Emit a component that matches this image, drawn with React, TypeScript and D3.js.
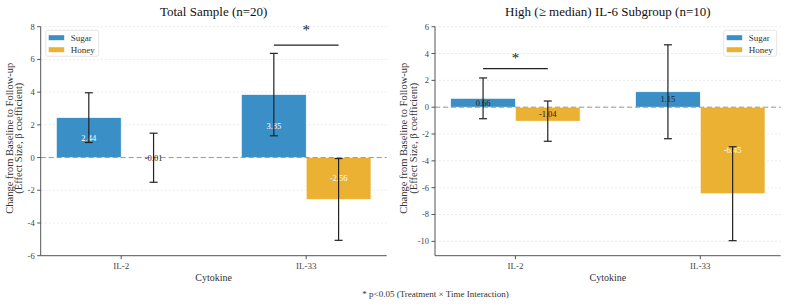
import React from "react";
import * as d3 from "d3";

// Cytokine effect sizes (beta coefficients) with error half-widths
const cytokines = ["IL-2", "IL-33"];

const totalSugar = [2.44, 3.85];
const totalHoney = [-0.01, -2.56];
const totalSugarErr = [1.52, 2.52];
const totalHoneyErr = [1.5, 2.5];

const highSugar = [0.66, 1.15];
const highHoney = [-1.04, -6.45];
const highSugarErr = [1.52, 3.5];
const highHoneyErr = [1.5, 3.5];

const totalTicks = [-6, -4, -2, 0, 2, 4, 6, 8];
const highTicks = [-10, -8, -6, -4, -2, 0, 2, 4, 6];

// significance bracket: cytokine index, bar height, star height
const totalSig = { index: 1, y: 6.87, star: 8.0 };
const highSig = { index: 0, y: 2.88, star: 3.9 };

const SUGAR = "#3a8fc7";
const HONEY = "#ebb133";
const FONT = "'Liberation Serif', 'Times New Roman', serif";
const BAR_W = 0.35;

type PanelProps = {
  title: string;
  left: number;
  right: number;
  yDomain: [number, number];
  ticks: number[];
  sugar: number[];
  honey: number[];
  sugarErr: number[];
  honeyErr: number[];
  sig: { index: number; y: number; star: number };
  legendRight: boolean;
};

const TOP = 26.7;
const BOTTOM = 255.7;

const Panel = ({
  title,
  left,
  right,
  yDomain,
  ticks,
  sugar,
  honey,
  sugarErr,
  honeyErr,
  sig,
  legendRight,
}: PanelProps) => {
  const x = d3.scaleLinear().domain([-0.435, 1.435]).range([left, right]);
  const y = d3.scaleLinear().domain(yDomain).range([BOTTOM, TOP]);
  const pxW = x(BAR_W) - x(0);

  const series = [
    { name: "Sugar", color: SUGAR, values: sugar, errs: sugarErr, off: -BAR_W / 2 },
    { name: "Honey", color: HONEY, values: honey, errs: honeyErr, off: BAR_W / 2 },
  ];

  const legendX = legendRight ? right - 57 : left + 5;
  const midY = (TOP + BOTTOM) / 2 - 3;

  return (
    <g fontFamily={FONT}>
      <text x={(left + right) / 2} y={16} textAnchor="middle" fontSize={13} fill="#111">
        {title}
      </text>

      {/* grid */}
      {ticks.map((t) => (
        <line
          key={t}
          x1={left}
          x2={right}
          y1={y(t)}
          y2={y(t)}
          stroke="#ddd"
          strokeWidth={0.6}
          strokeDasharray="2,2"
        />
      ))}

      {/* bars */}
      {series.map((s) =>
        s.values.map((v, i) => {
          const cx = x(i + s.off);
          return (
            <rect
              key={s.name + i}
              x={cx - pxW / 2}
              width={pxW}
              y={Math.min(y(v), y(0))}
              height={Math.abs(y(v) - y(0))}
              fill={s.color}
              stroke="#fff"
              strokeWidth={0.6}
            />
          );
        })
      )}

      {/* zero line */}
      <line
        x1={left}
        x2={right}
        y1={y(0)}
        y2={y(0)}
        stroke="#999"
        strokeWidth={1}
        strokeDasharray="5,3"
      />

      {/* value labels */}
      {series.map((s) =>
        s.values.map((v, i) => (
          <text
            key={"l" + s.name + i}
            x={x(i + s.off)}
            y={y(v / 2)}
            dy="0.35em"
            textAnchor="middle"
            fontSize={8.5}
            fill={Math.abs(v) > 2 ? "#fff" : "#222"}
          >
            {v.toFixed(2)}
          </text>
        ))
      )}

      {/* error bars */}
      {series.map((s) =>
        s.values.map((v, i) => {
          const cx = x(i + s.off);
          const lo = y(v - s.errs[i]);
          const hi = y(v + s.errs[i]);
          return (
            <g key={"e" + s.name + i} stroke="#222" strokeWidth={1.2}>
              <line x1={cx} x2={cx} y1={lo} y2={hi} />
              <line x1={cx - 4} x2={cx + 4} y1={lo} y2={lo} />
              <line x1={cx - 4} x2={cx + 4} y1={hi} y2={hi} />
            </g>
          );
        })
      )}

      {/* significance bracket */}
      <line
        x1={x(sig.index - BAR_W / 2)}
        x2={x(sig.index + BAR_W / 2)}
        y1={y(sig.y)}
        y2={y(sig.y)}
        stroke="#222"
        strokeWidth={1.2}
      />
      <text
        x={x(sig.index)}
        y={y(sig.star)}
        dy="0.55em"
        textAnchor="middle"
        fontSize={15}
        fill="#222"
      >
        *
      </text>

      {/* axes */}
      <line x1={left} x2={left} y1={TOP} y2={BOTTOM} stroke="#555" strokeWidth={1} />
      <line x1={left} x2={right} y1={BOTTOM} y2={BOTTOM} stroke="#555" strokeWidth={1} />
      {ticks.map((t) => (
        <g key={"t" + t}>
          <line x1={left - 3.5} x2={left} y1={y(t)} y2={y(t)} stroke="#555" />
          <text
            x={left - 6}
            y={y(t)}
            dy="0.35em"
            textAnchor="end"
            fontSize={8.5}
            fill="#444"
          >
            {t}
          </text>
        </g>
      ))}
      {cytokines.map((c, i) => (
        <g key={c}>
          <line x1={x(i)} x2={x(i)} y1={BOTTOM} y2={BOTTOM + 3.5} stroke="#555" />
          <text x={x(i)} y={BOTTOM + 13} textAnchor="middle" fontSize={9} fill="#444">
            {c}
          </text>
        </g>
      ))}
      <text x={(left + right) / 2} y={BOTTOM + 25} textAnchor="middle" fontSize={10} fill="#333">
        Cytokine
      </text>
      <text
        transform={`translate(${left - 28},${midY}) rotate(-90)`}
        textAnchor="middle"
        fontSize={10.5}
        fill="#333"
      >
        <tspan x={0} dy="0">Change from Baseline to Follow-up</tspan>
        <tspan x={0} dy="0.92em">(Effect Size, β coefficient)</tspan>
      </text>

      {/* legend */}
      <g transform={`translate(${legendX},${TOP + 3.5})`}>
        <rect width={53} height={26} rx={2} fill="#fff" fillOpacity={0.85} stroke="#ddd" strokeWidth={0.8} />
        {series.map((s, i) => (
          <g key={"lg" + s.name} transform={`translate(3,${7.5 + i * 12})`}>
            <rect y={-2.5} width={15.5} height={5} fill={s.color} />
            <text x={22} dy="0.35em" fontSize={9} fill="#333">
              {s.name}
            </text>
          </g>
        ))}
      </g>
    </g>
  );
};

const App = () => (
  <svg
    width={785}
    height={304}
    style={{ position: "absolute", left: 0, top: 0, background: "#fff" }}
  >
    <Panel
      title="Total Sample (n=20)"
      left={40.7}
      right={386.7}
      yDomain={[-6, 8]}
      ticks={totalTicks}
      sugar={totalSugar}
      honey={totalHoney}
      sugarErr={totalSugarErr}
      honeyErr={totalHoneyErr}
      sig={totalSig}
      legendRight={false}
    />
    <Panel
      title="High (≥ median) IL-6 Subgroup (n=10)"
      left={435}
      right={780.7}
      yDomain={[-11.07, 6.0]}
      ticks={highTicks}
      sugar={highSugar}
      honey={highHoney}
      sugarErr={highSugarErr}
      honeyErr={highHoneyErr}
      sig={highSig}
      legendRight={true}
    />
    <text x={435.5} y={297} textAnchor="middle" fontSize={9} fontFamily={FONT} fill="#333">
      * p&lt;0.05 (Treatment × Time Interaction)
    </text>
  </svg>
);

export default App;
